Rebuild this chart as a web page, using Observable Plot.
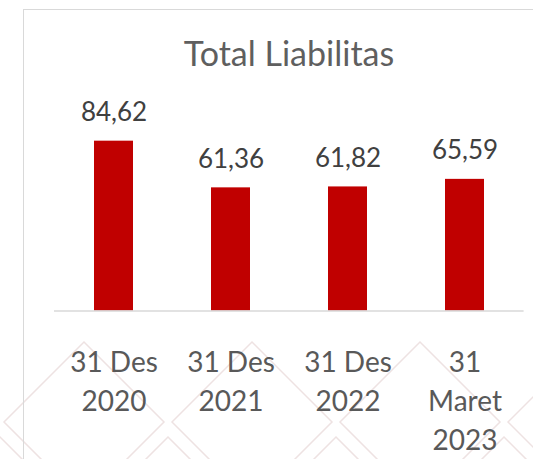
<!DOCTYPE html>
<html>
<head>
<meta charset="utf-8">
<script src="https://cdn.jsdelivr.net/npm/d3@7"></script>
<script src="https://cdn.jsdelivr.net/npm/@observablehq/plot@0.6"></script>
<style>
  html, body { margin: 0; padding: 0; background: #fff; }
  #wrap { position: relative; width: 533px; height: 459px; overflow: hidden; }
  #bg { position: absolute; left: 0; top: 0; }
  #frame { position: absolute; left: 23px; top: 9px; width: 520px; height: 460px;
           border-left: 1.5px solid #d9d9d9; border-top: 1.5px solid #d9d9d9; }
  #title { position: relative; box-sizing: border-box; height: 80px; padding-top: 33px;
           margin-left: 54px; width: 470px; text-align: center;
           font-family: Lato, "Open Sans", sans-serif; font-weight: 400; font-size: 34px; line-height: 40px; color: #5f5f5f; }
  #chart { position: relative; }
</style>
</head>
<body>
<div id="wrap">
  <svg id="bg" width="533" height="459"></svg>
  <div id="frame"></div>
  <div id="title">Total Liabilitas</div>
  <div id="chart"></div>
</div>
<script>
// Data
const periods = ["31 Des\n2020", "31 Des\n2021", "31 Des\n2022", "31\nMaret\n2023"];
const values = [84.62, 61.36, 61.82, 65.59];
const valueLabels = ["84,62", "61,36", "61,82", "65,59"];

const data = periods.map((p, i) => ({period: p, value: values[i], label: valueLabels[i]}));

// decorative diamond background pattern
(function () {
  const bg = d3.select("#bg");
  const s = 80;
  const rows = [{cy: 422, xs: [84, 252, 420, 588]}, {cy: 517, xs: [0, 168, 336, 504]}];
  for (const r of rows) for (const cx of r.xs) {
    bg.append("polygon")
      .attr("points", `${cx},${r.cy - s} ${cx + s},${r.cy} ${cx},${r.cy + s} ${cx - s},${r.cy}`)
      .attr("fill", "none").attr("stroke", "#eee2e2").attr("stroke-width", 1.5);
  }
})();

const W = 533, H = 379;
const chart = Plot.plot({
  width: W,
  height: H,
  marginLeft: 54,
  marginRight: 9.4,
  marginTop: 29.8,
  marginBottom: 148.5,
  style: {background: "transparent", fontFamily: "Lato, 'Open Sans', sans-serif", overflow: "visible"},
  x: {domain: periods, paddingInner: 0.668, paddingOuter: 0.334, label: null},
  y: {domain: [0, 100], axis: null},
  marks: [
    Plot.barY(data, {x: "period", y: "value", fill: "#C00000"}),
    Plot.ruleY([0], {stroke: "#d9d9d9", strokeWidth: 1.5}),
    Plot.text(data, {x: "period", y: "value", text: "label", lineAnchor: "bottom", dy: -20,
                     fontSize: 26, fill: "#404040"}),
    Plot.axisX({tickSize: 0, tickPadding: 32.5, fontSize: 28, lineHeight: 1.41,
                fill: "#595959", label: null})
  ]
});
document.getElementById("chart").appendChild(chart);
</script>
</body>
</html>
